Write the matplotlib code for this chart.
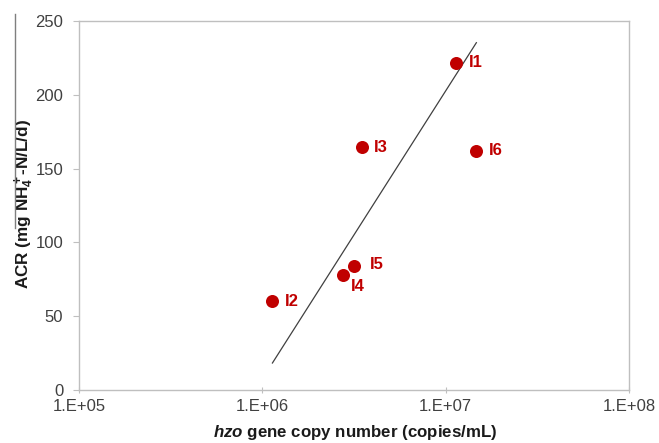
import matplotlib
matplotlib.use('Agg')
import matplotlib.pyplot as plt
from matplotlib.lines import Line2D
from matplotlib.ticker import FixedLocator, FixedFormatter

# hzo gene copies vs ammonium conversion rate for each inoculum
names = ['I1', 'I2', 'I3', 'I4', 'I5', 'I6']
copies = [1.14e7, 1.135e6, 3.48e6, 2.74e6, 3.18e6, 1.47e7]
acr = [221.7, 60.3, 164.4, 77.7, 84.0, 162.1]

# label offsets in points (dx, dy)
offsets = [(9, 0), (9, 0), (9, 0), (6, -8), (11, 1), (9, 0)]

# logarithmic trend line end points
trend_x = [1.135e6, 1.47e7]
trend_y = [18.3, 235.3]

xticks = [1e5, 1e6, 1e7, 1e8]
xticklabels = ['1.E+05', '1.E+06', '1.E+07', '1.E+08']
yticks = [0, 50, 100, 150, 200, 250]

red = '#C00000'
grey = '#BFBFBF'

plt.rcParams['font.family'] = ['Liberation Sans', 'DejaVu Sans']
plt.rcParams['mathtext.fontset'] = 'custom'
plt.rcParams['mathtext.rm'] = 'Liberation Sans:bold'
plt.rcParams['mathtext.bf'] = 'Liberation Sans:bold'
plt.rcParams['mathtext.it'] = 'Liberation Sans:italic:bold'
plt.rcParams['mathtext.bfit'] = 'Liberation Sans:italic:bold'


def main():
    fig = plt.figure(figsize=(6.59, 4.43), dpi=100)
    ax = fig.add_axes([0.1199, 0.1196, 0.8346, 0.833])

    ax.plot(trend_x, trend_y, color='#404040', lw=0.9, zorder=2)
    ax.scatter(copies, acr, s=88, color=red, zorder=3, linewidths=0)
    for n, lab in enumerate(names):
        ax.annotate(lab, (copies[n], acr[n]), xytext=offsets[n],
                    textcoords='offset points', va='center', ha='left',
                    color=red, fontsize=12, fontweight='bold')

    ax.set_xscale('log')
    ax.set_xlim(1e5, 1e8)
    ax.set_ylim(0, 250)
    ax.xaxis.set_major_locator(FixedLocator(xticks))
    ax.xaxis.set_major_formatter(FixedFormatter(xticklabels))
    ax.xaxis.set_minor_locator(FixedLocator([]))
    ax.set_yticks(yticks)

    for s in ax.spines.values():
        s.set_color(grey)
        s.set_linewidth(1)
    ax.tick_params(axis='x', direction='inout', length=5, color=grey,
                   labelsize=12, labelcolor='#404040', pad=4)
    ax.tick_params(axis='y', direction='out', length=4.3, color=grey,
                   labelsize=12, labelcolor='#404040', pad=7)

    ax.set_xlabel(r'$\mathbfit{hzo}$ gene copy number (copies/mL)',
                  fontsize=12.2, fontweight='bold', color='#1a1a1a')
    ax.set_ylabel(r'ACR (mg NH$_4^+$-N/L/d)',
                  fontsize=12.3, fontweight='bold', color='#1a1a1a')
    ax.xaxis.set_label_coords(0.502, -0.09)
    ax.yaxis.set_label_coords(-0.079, 0.505)

    # thin rule left of the axis title
    fig.add_artist(Line2D([14.5 / 659, 14.5 / 659], [1 - 14 / 443, 1 - 228 / 443],
                          transform=fig.transFigure, color='#7f7f7f', lw=1))

    plt.savefig('out.png', dpi=100)


if __name__ == '__main__':
    main()
